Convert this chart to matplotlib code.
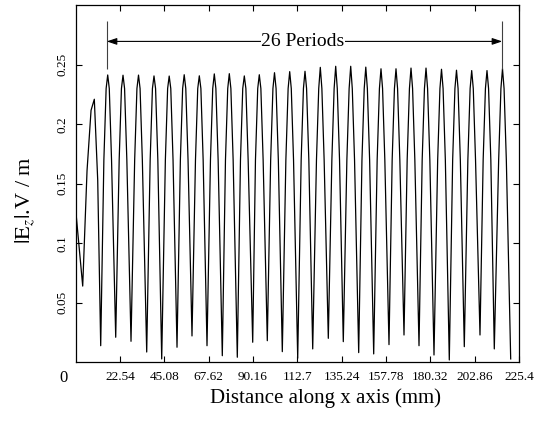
import matplotlib
matplotlib.use('Agg')
import matplotlib.pyplot as plt
import numpy as np

plt.rcParams['font.family'] = 'Liberation Serif'
plt.rcParams['mathtext.fontset'] = 'stix'

# Field magnitude |Ez| (V/m) along x (mm)

# irregular start of the trace
start_x = [0.0, 3.56, 5.76, 6.78, 7.80, 9.46, 11.19]
start_y = [0.128, 0.064, 0.161, 0.186, 0.2117, 0.221, 0.153]

# maxima of the 27 regular peaks (26 periods)
peak_x = [16.27, 24.05, 31.93, 39.81, 47.54, 55.17, 62.85, 70.47, 78.10,
          85.73, 93.35, 101.08, 108.81, 116.59, 124.37, 132.20, 139.83,
          147.50, 155.23, 162.86, 170.49, 178.12, 186.00, 193.62, 201.35,
          209.13, 217.01]
peak_y = [0.2414, 0.2412, 0.2413, 0.2406, 0.2405, 0.2416, 0.2407, 0.2423,
          0.2425, 0.2406, 0.2416, 0.2433, 0.2442, 0.2445, 0.2478, 0.2487,
          0.2487, 0.2480, 0.2466, 0.2466, 0.2472, 0.2472, 0.2462, 0.2454,
          0.2451, 0.2451, 0.2466]

# minima between the peaks
min_x = [12.71, 20.34, 28.12, 36.10, 43.73, 51.51, 59.13, 66.76, 74.54,
         82.17, 90.00, 97.42, 105.05, 112.88, 120.51, 128.44, 136.06,
         143.89, 151.52, 159.30, 166.93, 174.56, 182.18, 189.96, 197.59,
         205.57, 212.84, 221.18]
min_y = [0.0139, 0.0210, 0.0176, 0.0086, 0.0028, 0.0126, 0.0221, 0.0139,
         0.0055, 0.0042, 0.0168, 0.0181, 0.0089, 0.0034, 0.0112, 0.0201,
         0.0173, 0.0081, 0.0070, 0.0148, 0.0229, 0.0139, 0.0061, 0.0019,
         0.0131, 0.0229, 0.0112, 0.0028]

# half width of a peak (mm) measured at two levels of |Ez|
shoulder_level = [0.17, 0.23]
shoulder_halfwidth = [1.95, 0.80]

x_ticks = [22.54, 45.08, 67.62, 90.16, 112.7, 135.24, 157.78, 180.32, 202.86, 225.4]
x_labels = ['22.54', '45.08', '67.62', '90.16', '112.7', '135.24', '157.78',
            '180.32', '202.86', '225.4']
y_ticks = [0.05, 0.1, 0.15, 0.2, 0.25]
y_labels = ['0.05', '0.1', '0.15', '0.2', '0.25']

period_start, period_end = 15.76, 216.9
marker_low, marker_high, arrow_y = 0.2466, 0.2866, 0.2696

# assemble the trace vertices
xs = list(start_x)
ys = list(start_y)
for i in range(len(min_x)):
    xs.append(min_x[i]); ys.append(min_y[i])
    if i < len(peak_x):
        xp, yp = peak_x[i], peak_y[i]
        xs += [xp - shoulder_halfwidth[0], xp - shoulder_halfwidth[1], xp,
               xp + shoulder_halfwidth[1], xp + shoulder_halfwidth[0]]
        ys += [shoulder_level[0], shoulder_level[1], yp,
               shoulder_level[1], shoulder_level[0]]

fig = plt.figure(figsize=(5.4, 4.22), dpi=100)
ax = fig.add_axes([0.1402, 0.1416, 0.8209, 0.846])
ax.plot(xs, ys, color='black', lw=0.9)

ax.set_xlim(0, 225.4)
ax.set_ylim(0, 0.3)
ax.set_xticks(x_ticks)
ax.set_xticklabels(x_labels)
ax.set_yticks(y_ticks)
ax.set_yticklabels(y_labels, rotation=90, va='center')
ax.tick_params(direction='in', top=True, right=True, length=4, width=0.8,
               labelsize=9.5, colors='black')
ax.tick_params(axis='x', pad=6)
ax.tick_params(axis='y', pad=5)
for s in ax.spines.values():
    s.set_linewidth(0.9)

# 26 periods marker
ax.vlines([period_start, period_end], marker_low, marker_high, color='0.25', lw=0.8)
ax.annotate('', xy=(period_start, arrow_y), xytext=(period_end, arrow_y),
            arrowprops=dict(arrowstyle='<|-|>,head_length=0.6,head_width=0.2',
                            mutation_scale=10, color='black', lw=0.8,
                            shrinkA=0, shrinkB=0))
ax.text(115.6, arrow_y, '26 Periods', ha='center', va='center', fontsize=14,
        bbox=dict(fc='white', ec='none', pad=0.5))

fig.text(63/540, 1 - 378/422, '0', ha='center', va='center', fontsize=12)
fig.text(25/540, 1 - 200/422, r'$|\mathrm{E}_z|$.V / m', rotation=90,
         ha='center', va='center', fontsize=16)
fig.text(325.8/540, 1 - 398/422, 'Distance along x axis (mm)',
         ha='center', va='center', fontsize=15)

fig.savefig('out.png', dpi=100)
